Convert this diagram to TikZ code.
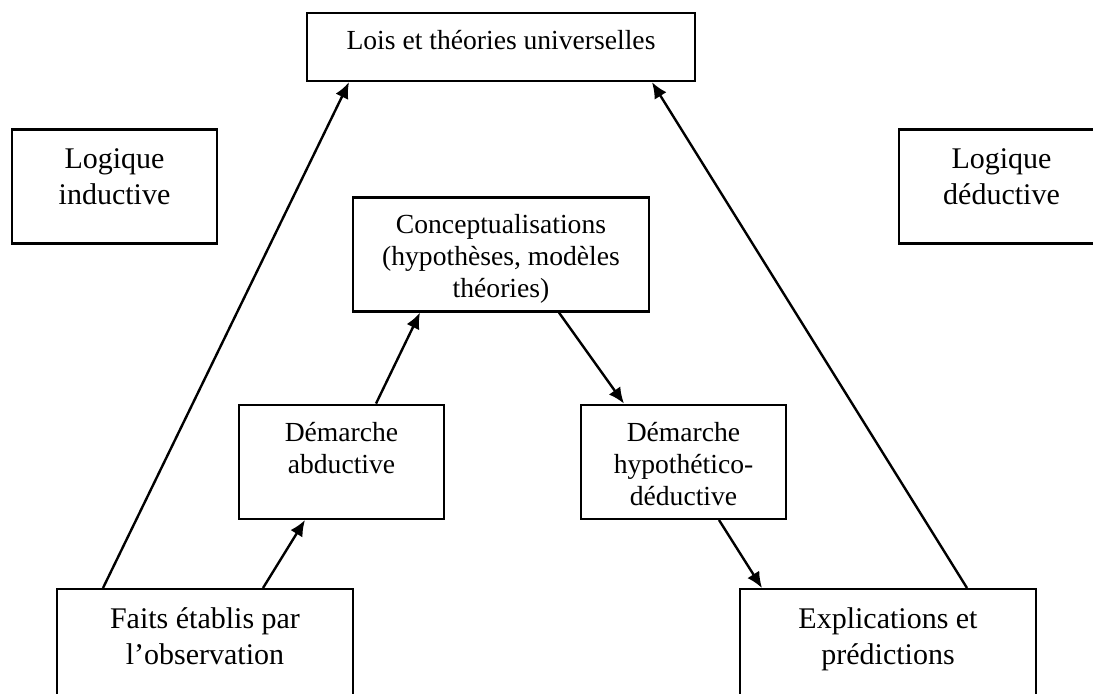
\documentclass[tikz,border=0pt]{standalone}
\usepackage{fontspec}
\setmainfont{Liberation Serif}
\usepackage{tikz}
\tikzstyle{block}=[draw, line width=1.2pt, inner sep=0pt]
\tikzstyle{big}=[font=\fontsize{15}{18}\selectfont]
\tikzstyle{small}=[font=\fontsize{13.8}{16}\selectfont]
\usetikzlibrary{positioning,arrows.meta}
\newcommand{\boxtext}[3]{\parbox[c][#2][t]{#1}{\centering\vspace*{7pt}\strut #3}}

\begin{document}
\begin{tikzpicture}[>={Latex[length=8pt,width=7pt]},line width=1.2pt]
    \useasboundingbox (0,0) rectangle (546.5pt,-346.5pt);
    \clip (0,0) rectangle (546.5pt,-346.5pt);
    \node (lois) [block,small] at (250.5pt,-23.5pt) {\boxtext{194pt}{34pt}{Lois et théories universelles}};
    \node (indu) [block,big,below=23pt of lois,xshift=-193.25pt] {\boxtext{102.5pt}{57pt}{Logique\\inductive}};
    \node (dedu) [block,big,below=23pt of lois,xshift=250.25pt] {\boxtext{102.5pt}{57pt}{Logique\\déductive}};
    \node (concept) [block,small,below=57pt of lois] {\boxtext{148pt}{57pt}{Conceptualisations\\(hypothèses, modèles\\théories)}};
    \node (abduc) [block,small,below=45.5pt of concept,xshift=-79.75pt] {\boxtext{102.5pt}{57pt}{Démarche\\abductive}};
    \node (hypo) [block,small,below=45.5pt of concept,xshift=91.25pt] {\boxtext{102.5pt}{57pt}{Démarche\\hypothético-\\déductive}};
    \node (faits) [block,big,below=34pt of abduc,xshift=-68.25pt] {\boxtext{148pt}{57pt}{Faits établis par\\l’observation}};
    \node (expl) [block,big,below=34pt of hypo,xshift=102.25pt] {\boxtext{148pt}{57pt}{Explications et\\prédictions}};
    \path[->]
    		([xshift=-51pt]faits.north) edge ([xshift=-76pt]lois.south)
    		([xshift=29pt]faits.north) edge ([xshift=-18.25pt]abduc.south)
    		([xshift=17.25pt]abduc.north) edge ([xshift=-40.5pt]concept.south)
    		([xshift=29pt]concept.south) edge ([xshift=-29.75pt]hypo.north)
    		([xshift=17.75pt]hypo.south) edge ([xshift=-63pt]expl.north)
    		([xshift=39.5pt]expl.north) edge ([xshift=75.5pt]lois.south);
\end{tikzpicture}
\end{document}
